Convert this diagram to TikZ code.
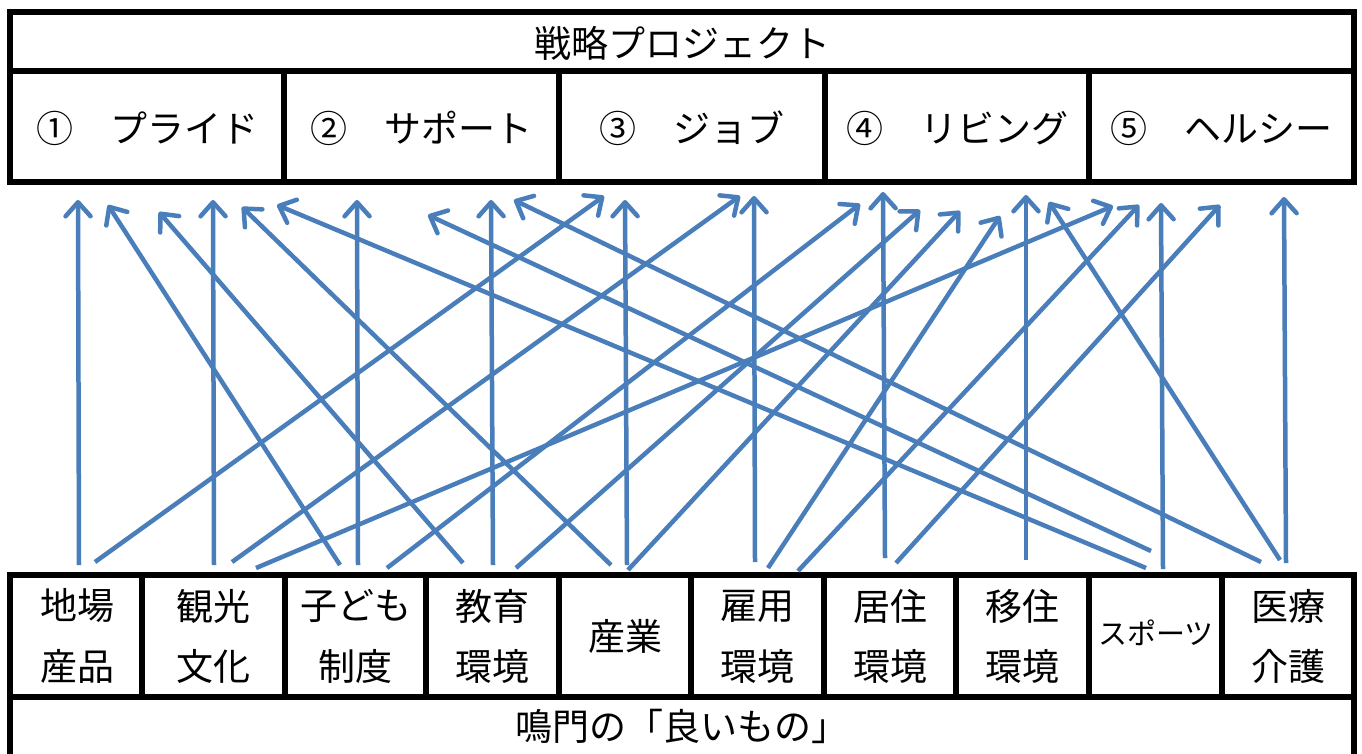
\documentclass[tikz,border=0pt]{standalone}
\usepackage{fontspec}
\newfontfamily\jp{Noto Sans CJK JP}
\usetikzlibrary{arrows.meta}
\definecolor{arrblue}{HTML}{4A7EBB}
\tikzset{
  cell/.style={draw=black, line width=6pt, anchor=north west, inner sep=0pt, outer sep=0pt, align=center},
  arr/.style={draw=arrblue, line width=4.5pt, -{Straight Barb[length=14pt,width=25pt,round]}},
  lbl/.style={font=\jp\fontsize{37}{42}\selectfont, inner sep=0pt}
}
\begin{document}
\begin{tikzpicture}[x=1pt,y=-1pt]
\useasboundingbox (0,0) rectangle (1362,753);
\fill[white] (0,0) rectangle (1362,753);
\begin{scope}
\clip (0,0) rectangle (1362,753);
% top boxes
\node[cell, minimum width=1344pt, minimum height=59pt] (title) at (10,12) {};
\node[lbl] (titletxt) at (682,43) {戦略プロジェクト};
\node[cell, minimum width=274pt, minimum height=111pt] (p1) at (10,71) {};
\node[cell, minimum width=275pt, minimum height=111pt] (p2) at (284,71) {};
\node[cell, minimum width=266pt, minimum height=111pt] (p3) at (559,71) {};
\node[cell, minimum width=264pt, minimum height=111pt] (p4) at (825,71) {};
\node[cell, minimum width=265pt, minimum height=111pt] (p5) at (1089,71) {};
\node[lbl] (p1t) at (147,128) {①　プライド};
\node[lbl] (p2t) at (421,128) {②　サポート};
\node[lbl] (p3t) at (692,128) {③　ジョブ};
\node[lbl] (p4t) at (957,128) {④　リビング};
\node[lbl] (p5t) at (1221,128) {⑤　ヘルシー};
% bottom boxes
\node[cell, minimum width=132pt, minimum height=122pt] (b1) at (10,575) {};
\node[cell, minimum width=143pt, minimum height=122pt] (b2) at (142,575) {};
\node[cell, minimum width=141pt, minimum height=122pt] (b3) at (285,575) {};
\node[cell, minimum width=133pt, minimum height=122pt] (b4) at (426,575) {};
\node[cell, minimum width=132pt, minimum height=122pt] (b5) at (559,575) {};
\node[cell, minimum width=133pt, minimum height=122pt] (b6) at (691,575) {};
\node[cell, minimum width=132pt, minimum height=122pt] (b7) at (824,575) {};
\node[cell, minimum width=133pt, minimum height=122pt] (b8) at (956,575) {};
\node[cell, minimum width=133pt, minimum height=122pt] (b9) at (1089,575) {};
\node[cell, minimum width=132pt, minimum height=122pt] (b10) at (1222,575) {};
\node[cell, minimum width=1344pt, minimum height=80pt] (bottom) at (10,697) {};
\node[lbl] (bottomtxt) at (682,726) {鳴門の「良いもの」};
\foreach \n/\x/\a/\b in {b1t/77/地場/産品, b2t/213.5/観光/文化, b3t/355.5/子ども/制度, b4t/492.5/教育/環境, b6t/757.5/雇用/環境, b7t/890/居住/環境, b8t/1022.5/移住/環境, b10t/1288/医療/介護} {
  \node[lbl] (\n a) at (\x,606) {\a};
  \node[lbl] (\n b) at (\x,666) {\b};
}
\node[lbl] (b5t) at (625,636) {産業};
\node[lbl, font=\jp\fontsize{29}{34}\selectfont] (b9t) at (1156,633) {スポーツ};
% arrows
\foreach \i/\sx/\sy/\tx/\ty in {
 1/79/565/78/200, 2/214/565/213/200, 3/358/565/357/200, 4/493/565/491/200, 5/627/565/625/200,
 6/755/562/754/196, 7/885/558/883/192, 8/1026/560/1026/195, 9/1163/569/1161/203, 10/1286/563/1284/197,
 11/95/562/604/196, 12/232/562/740/196, 13/256/568/1113/206, 14/387/568/860/204, 15/516/568/920/210,
 16/628/570/960/211, 17/768/568/1000/216, 18/798/571/1139/205, 19/896/563/1220/205,
 20/340/565/108/205, 21/463/563/159/212, 22/611/565/242/207, 23/1146/568/277/205, 24/1151/551/428/215,
 25/1261/562/514/200, 26/1280/560/1049/202} {
  \coordinate (s\i) at (\sx,\sy);
  \coordinate (t\i) at (\tx,\ty);
  \draw[arr] (s\i) -- (t\i);
}
\end{scope}
\end{tikzpicture}
\end{document}
